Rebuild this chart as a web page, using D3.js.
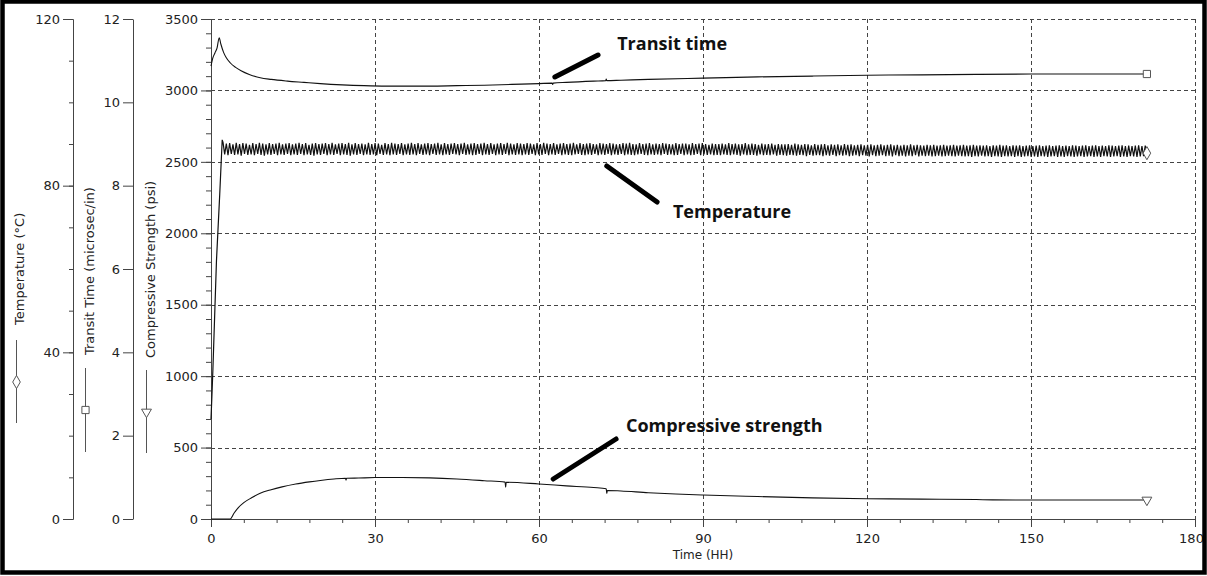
<!DOCTYPE html>
<html>
<head>
<meta charset="utf-8">
<script src="https://cdn.jsdelivr.net/npm/d3@7"></script>
<style>
  body { margin: 0; background: #fff; }
  svg { display: block; font-family: "DejaVu Sans", sans-serif; }
  .axis path, .axis line { stroke: #444; }
  .axis text { fill: #222; font-size: 13px; font-family: "DejaVu Sans", sans-serif; }
  .note { font-family: "Open Sans", sans-serif; font-weight: 700; font-size: 18px; fill: #111; }
</style>
</head>
<body>
<div id="chart"></div>
<script>
// --- dados ---
const xTicks = [0, 30, 60, 90, 120, 150, 180];
const strengthTicks = [0, 500, 1000, 1500, 2000, 2500, 3000, 3500];
const transitTicks = [0, 2, 4, 6, 8, 10, 12];
const tempTicks = [0, 40, 80, 120];

// [hora, microsec/in]
const transitTime = [
  [0, 10.87], [0.3, 11.05], [0.7, 11.18], [1.1, 11.3], [1.5, 11.55], [1.8, 11.4],
  [2.3, 11.2], [2.8, 11.07], [3.5, 10.95], [4.5, 10.84], [5.5, 10.76], [7, 10.67],
  [9, 10.59], [11, 10.55], [14, 10.51], [17, 10.48], [20, 10.45], [24, 10.42],
  [28, 10.40], [32, 10.39], [36, 10.39], [40, 10.39], [45, 10.40], [50, 10.41],
  [55, 10.43], [60, 10.45], [62.4, 10.46], [62.5, 10.43], [62.6, 10.46], [65, 10.48],
  [70, 10.51], [72.2, 10.52], [72.3, 10.56], [72.4, 10.52], [75, 10.53], [80, 10.55],
  [90, 10.58], [100, 10.61], [110, 10.63], [120, 10.65], [130, 10.66], [140, 10.67],
  [150, 10.68], [160, 10.68], [171.2, 10.68]
];

// [hora, psi]
const strength = [
  [0, 0], [3.5, 0], [4.2, 40], [5, 80], [6, 115], [7.5, 150], [9, 180], [11, 205],
  [13, 225], [15.5, 245], [18, 260], [20, 270], [22.5, 280], [24.6, 285], [24.7, 272],
  [24.8, 285], [27, 287], [30, 290], [35, 291], [40, 288], [45, 280], [50, 268],
  [53.8, 258], [53.9, 222], [54.0, 257], [60, 245], [65, 232], [70, 220], [72.3, 212],
  [72.4, 178], [72.5, 200], [75, 196], [80, 184], [85, 175], [90, 168], [100, 157],
  [110, 148], [120, 142], [130, 139], [140, 136], [143, 134], [150, 133], [160, 133],
  [171.2, 133]
];

// [hora, °C] subida inicial
const tempRamp = [[0, 24], [0.15, 29], [0.35, 36], [1.0, 62], [1.6, 78], [2.05, 91]];
// leituras de temperatura (oscilação do controlador), de tempStart até tempEnd
const tempStart = 2.2, tempEnd = 171.2;
const tempReadings = [
  90.4,87.5,90.1,87.3,90.2,87.6,89.9,87.4,90.3,87.5,90.0,87.2,90.2,87.6,90.1,87.4,89.8,87.5,90.2,87.3,
  90.0,87.6,90.3,87.4,90.1,87.2,89.9,87.5,90.2,87.4,90.0,87.6,90.1,87.3,90.3,87.5,89.9,87.4,90.1,87.6,
  90.2,87.3,89.9,87.5,90.1,87.4,90.3,87.6,90.0,87.3,90.2,87.5,89.8,87.4,90.1,87.2,90.2,87.5,90.0,87.4,
  90.1,87.6,90.2,87.3,90.0,87.5,90.3,87.4,89.9,87.6,90.1,87.3,90.2,87.5,90.0,87.4,90.3,87.2,89.9,87.5,
  90.2,87.4,90.0,87.6,90.1,87.3,89.9,87.5,90.3,87.4,90.0,87.5,90.2,87.3,90.1,87.6,89.8,87.4,90.2,87.5,
  90.0,87.3,90.3,87.5,90.1,87.4,90.0,87.6,90.2,87.3,89.9,87.5,90.1,87.4,90.3,87.5,90.0,87.3,90.2,87.6,
  89.9,87.4,90.1,87.5,90.2,87.3,90.0,87.6,90.1,87.4,90.3,87.5,89.9,87.3,90.2,87.5,90.0,87.4,90.1,87.6,
  90.2,87.5,90.0,87.3,90.1,87.6,90.3,87.4,89.9,87.5,90.1,87.3,90.2,87.4,90.0,87.6,90.1,87.3,90.3,87.5,
  90.0,87.4,90.2,87.6,89.9,87.3,90.1,87.5,90.2,87.4,90.0,87.6,90.3,87.3,90.1,87.5,89.9,87.4,90.2,87.5,
  90.1,87.3,90.0,87.5,90.2,87.4,90.1,87.6,89.9,87.3,90.2,87.5,90.0,87.4,90.3,87.6,90.1,87.3,90.0,87.5,
  90.2,87.4,89.9,87.6,90.1,87.3,90.2,87.5,90.0,87.4,90.1,87.3,90.3,87.5,89.9,87.6,90.2,87.4,90.0,87.3,
  90.1,87.5,90.2,87.4,90.0,87.6,89.9,87.3,90.2,87.5,90.1,87.4,90.0,87.6,90.2,87.3,90.1,87.5,89.9,87.4,
  90.0,87.6,90.2,87.3,90.1,87.5,90.3,87.4,90.0,87.3,89.9,87.5,90.2,87.6,90.0,87.4,90.1,87.3,90.2,87.5,
  89.9,87.4,90.1,87.5,90.0,87.3,90.2,87.6,90.1,87.4,90.0,87.5,89.9,87.3,90.2,87.4,90.0,87.6,90.1,87.3,
  90.1,87.5,89.9,87.3,90.2,87.4,90.0,87.6,90.1,87.3,90.2,87.5,90.0,87.4,89.8,87.5,90.1,87.3,90.0,87.4,
  90.0,87.3,90.1,87.5,89.9,87.4,90.2,87.3,90.0,87.5,90.1,87.4,89.9,87.2,90.0,87.5,90.2,87.3,89.9,87.4,
  90.1,87.4,90.0,87.2,89.8,87.5,90.1,87.3,89.9,87.4,90.0,87.3,90.1,87.5,89.8,87.2,90.0,87.4,89.9,87.3,
  89.9,87.2,90.0,87.4,89.8,87.3,90.1,87.2,89.9,87.4,89.8,87.3,90.0,87.1,89.9,87.4,89.7,87.2,90.0,87.3,
  89.8,87.3,89.9,87.1,90.0,87.3,89.7,87.2,89.9,87.4,89.8,87.1,89.9,87.3,89.7,87.2,90.0,87.3,89.8,87.1,
  89.9,87.2,89.7,87.3,89.8,87.1,89.9,87.3,89.7,87.2,89.8,87.0,89.9,87.3,89.7,87.1,89.8,87.2,89.9,87.3,
  89.7,87.1,89.8,87.2,89.9,87.0,89.7,87.3,89.8,87.1,89.6,87.2,89.8,87.0,89.7,87.2,89.9,87.1,89.7,87.3,
  89.8,87.0,89.7,87.2,89.6,87.1,89.8,87.2,89.7,87.0,89.8,87.1,89.6,87.2,89.7,87.0,89.8,87.1,89.6,87.2,
  89.7,87.1,89.8,87.0,89.6,87.2,89.7,87.1,89.8,87.0,89.6,87.1,89.7,86.9,89.8,87.1,89.6,87.0,89.7,87.2,
  89.6,87.0,89.7,87.1,89.5,86.9,89.7,87.1,89.6,87.0,89.8,86.9,89.6,87.1,89.7,87.0,89.5,87.1,89.7,86.9,
  89.6,87.1,89.7,86.9,89.5,87.0,89.6,87.1,89.7,86.9,89.5,87.0,89.6,86.9,89.7,87.1,89.5,87.0,89.6,86.9,
  89.7,87.0,89.5,87.1,89.6,86.9,89.7,87.0,89.5,86.9,89.6,87.1,89.5,87.0,89.7,86.9,89.6,87.0,89.5,87.1,
  89.6,86.9,89.7,87.0,89.5,87.1,89.6,86.9,89.7,87.0,89.5,86.9,89.6,87.1,89.5,87.0,89.7,86.9,89.6,87.0,
  89.5,87.1,89.6,86.9,89.7,87.0,89.5,86.9,89.6,87.1,89.5,87.0,89.6,86.9,89.7,87.0,89.5,87.1,89.6,87.8
];

// anotações: [hora, psi] da ponta da seta e do texto
const notes = [
  { label: "Transit time", from: [62.9, 3094], to: [70.8, 3248], text: [74.3, 3283] },
  { label: "Temperature", from: [72.4, 2471], to: [81.6, 2219], text: [84.5, 2107] },
  { label: "Compressive strength", from: [62.6, 280], to: [74.1, 560], text: [75.9, 609] }
];

const W = 1207, H = 576;
const plot = { left: 211, right: 1195, top: 19, bottom: 519 };

const svg = d3.select("#chart").append("svg")
  .attr("width", W).attr("height", H);

svg.append("rect").attr("width", W).attr("height", H).attr("fill", "#fff");

// --- Escalas ---
const x = d3.scaleLinear().domain([0, 180]).range([plot.left, plot.right]);
const yS = d3.scaleLinear().domain([0, 3500]).range([plot.bottom, plot.top]);
const yT = d3.scaleLinear().domain([0, 12]).range([plot.bottom, plot.top]);
const yC = d3.scaleLinear().domain([0, 120]).range([plot.bottom, plot.top]);
const fmt = d3.format("d");

// --- Grade tracejada ---
const grid = svg.append("g").attr("stroke", "#444").attr("stroke-width", 1).attr("stroke-dasharray", "4,3");
grid.selectAll(".vg").data(xTicks.slice(1)).join("line")
  .attr("x1", d => Math.round(x(d)) + 0.5).attr("x2", d => Math.round(x(d)) + 0.5)
  .attr("y1", plot.top).attr("y2", plot.bottom);
grid.selectAll(".hg").data(strengthTicks.slice(1)).join("line")
  .attr("x1", plot.left).attr("x2", plot.right)
  .attr("y1", d => Math.round(yS(d)) + 0.5).attr("y2", d => Math.round(yS(d)) + 0.5);

// --- Eixos ---
svg.append("g").attr("class", "axis")
  .attr("transform", `translate(0,${plot.bottom})`)
  .call(d3.axisBottom(x).tickValues(d3.range(0, 181, 6)).tickSize(4).tickSizeOuter(0).tickFormat(""));
const xAxisG = svg.append("g").attr("class", "axis")
  .attr("transform", `translate(0,${plot.bottom})`)
  .call(d3.axisBottom(x).tickValues(xTicks).tickSize(8).tickSizeOuter(0).tickPadding(7).tickFormat(fmt));
// "180" encostado na moldura, como no original
xAxisG.selectAll(".tick text").filter(d => d === 180).attr("dx", -4);

svg.append("g").attr("class", "axis")
  .attr("transform", `translate(${plot.left},0)`)
  .call(d3.axisLeft(yS).tickValues(d3.range(0, 3501, 100)).tickSize(5).tickSizeOuter(0).tickFormat(""));
svg.append("g").attr("class", "axis")
  .attr("transform", `translate(${plot.left},0)`)
  .call(d3.axisLeft(yS).tickValues(strengthTicks).tickSize(10).tickSizeOuter(0).tickPadding(3).tickFormat(fmt));

svg.append("g").attr("class", "axis")
  .attr("transform", "translate(133,0)")
  .call(d3.axisLeft(yT).tickValues(transitTicks).tickSize(10).tickSizeOuter(0).tickPadding(3).tickFormat(fmt));

svg.append("g").attr("class", "axis")
  .attr("transform", "translate(73,0)")
  .call(d3.axisLeft(yC).tickValues(d3.range(0, 121, 10)).tickSize(4).tickSizeOuter(0).tickFormat(""));
svg.append("g").attr("class", "axis")
  .attr("transform", "translate(73,0)")
  .call(d3.axisLeft(yC).tickValues(tempTicks).tickSize(10).tickSizeOuter(0).tickPadding(3).tickFormat(fmt));

svg.append("text")
  .attr("x", (plot.left + plot.right) / 2).attr("y", 559)
  .attr("text-anchor", "middle").attr("font-size", 12).attr("fill", "#222")
  .text("Time (HH)");

// títulos verticais com legenda
const titles = [
  { label: "Temperature (°C)", x: 24, y: 325, lx: 16, l1: 340, l2: 423, my: 382, sym: d3.symbolDiamond, size: 50, rot: 0 },
  { label: "Transit Time (microsec/in)", x: 94, y: 355, lx: 85, l1: 368, l2: 452, my: 410, sym: d3.symbolSquare, size: 52, rot: 0 },
  { label: "Compressive Strength (psi)", x: 155, y: 358, lx: 146, l1: 370, l2: 453, my: 412, sym: d3.symbolTriangle, size: 42, rot: 180 }
];
titles.forEach(t => {
  svg.append("text")
    .attr("transform", `translate(${t.x},${t.y}) rotate(-90)`)
    .attr("font-size", 13).attr("fill", "#222")
    .text(t.label);
  svg.append("line")
    .attr("x1", t.lx + 0.5).attr("x2", t.lx + 0.5).attr("y1", t.l1).attr("y2", t.l2)
    .attr("stroke", "#555");
  svg.append("path")
    .attr("d", d3.symbol().type(t.sym).size(t.size)())
    .attr("transform", `translate(${t.lx + 0.5},${t.my}) rotate(${t.rot})`)
    .attr("fill", "#fff").attr("stroke", "#555");
});

// --- Séries ---
const step = (tempEnd - tempStart) / (tempReadings.length - 1);
const temperature = tempRamp.concat(tempReadings.map((v, i) => [tempStart + i * step, v]));

const series = [
  { data: transitTime, y: yT, curve: d3.curveMonotoneX, sym: d3.symbolSquare, size: 52, rot: 0, w: 1.1 },
  { data: temperature, y: yC, curve: d3.curveLinear, sym: d3.symbolDiamond, size: 50, rot: 0, w: 1.2 },
  { data: strength, y: yS, curve: d3.curveMonotoneX, sym: d3.symbolTriangle, size: 42, rot: 180, w: 1.1 }
];

series.forEach(s => {
  const line = d3.line().x(d => x(d[0])).y(d => s.y(d[1])).curve(s.curve);
  svg.append("path")
    .datum(s.data)
    .attr("d", line)
    .attr("fill", "none")
    .attr("stroke", "#111")
    .attr("stroke-width", s.w);
  const last = s.data[s.data.length - 1];
  svg.append("path")
    .attr("d", d3.symbol().type(s.sym).size(s.size)())
    .attr("transform", `translate(${x(last[0])},${s.y(last[1])}) rotate(${s.rot})`)
    .attr("fill", "#fff").attr("stroke", "#555");
});

// --- Anotações ---
notes.forEach(n => {
  svg.append("line")
    .attr("x1", x(n.from[0])).attr("y1", yS(n.from[1]))
    .attr("x2", x(n.to[0])).attr("y2", yS(n.to[1]))
    .attr("stroke", "#000").attr("stroke-width", 5).attr("stroke-linecap", "round");
  svg.append("text")
    .attr("class", "note")
    .attr("x", x(n.text[0])).attr("y", yS(n.text[1]))
    .text(n.label);
});

// moldura
svg.append("rect")
  .attr("x", 2.5).attr("y", 1.5).attr("width", 1202).attr("height", 571)
  .attr("fill", "none").attr("stroke", "#000").attr("stroke-width", 4.5);
</script>
</body>
</html>
